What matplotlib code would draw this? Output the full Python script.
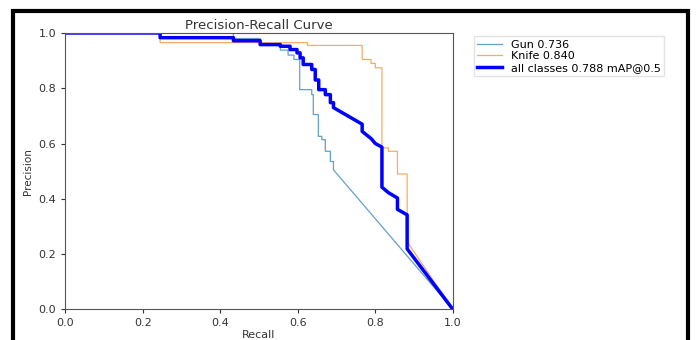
import matplotlib
matplotlib.use("Agg")
import matplotlib.pyplot as plt
from matplotlib.patches import Rectangle

# vertices of the precision-recall curves
gun_recall = [0, 0.434, 0.434, 0.503, 0.503, 0.555, 0.555, 0.575, 0.575, 0.59, 0.59,
              0.605, 0.605, 0.636, 0.636, 0.64, 0.64, 0.653, 0.653, 0.662, 0.662,
              0.671, 0.671, 0.684, 0.684, 0.692, 0.692, 1.0]
gun_precision = [1.0, 1.0, 0.98, 0.98, 0.958, 0.958, 0.938, 0.938, 0.92, 0.92, 0.904,
                 0.904, 0.795, 0.795, 0.777, 0.777, 0.705, 0.705, 0.626, 0.626, 0.614,
                 0.614, 0.572, 0.572, 0.535, 0.535, 0.505, 0.0]

knife_recall = [0, 0.245, 0.245, 0.625, 0.625, 0.766, 0.766, 0.789, 0.789, 0.80, 0.80,
                0.817, 0.817, 0.834, 0.834, 0.857, 0.857, 0.882, 0.882, 1.0]
knife_precision = [1.0, 1.0, 0.965, 0.965, 0.955, 0.955, 0.904, 0.904, 0.89, 0.89, 0.874,
                   0.874, 0.584, 0.584, 0.572, 0.572, 0.49, 0.49, 0.245, 0.0]

all_recall = [0, 0.245, 0.245, 0.434, 0.434, 0.503, 0.503, 0.555, 0.555, 0.58, 0.58,
              0.598, 0.598, 0.606, 0.606, 0.614, 0.614, 0.636, 0.636, 0.645, 0.645,
              0.654, 0.654, 0.671, 0.671, 0.684, 0.684, 0.692, 0.692, 0.766, 0.766,
              0.789, 0.80, 0.817, 0.817, 0.834, 0.857, 0.857, 0.882, 0.882, 1.0]
all_precision = [1.0, 1.0, 0.983, 0.983, 0.972, 0.972, 0.958, 0.958, 0.952, 0.952, 0.94,
                 0.94, 0.928, 0.928, 0.91, 0.91, 0.886, 0.886, 0.868, 0.868, 0.83,
                 0.83, 0.795, 0.795, 0.777, 0.777, 0.748, 0.748, 0.73, 0.67, 0.644,
                 0.618, 0.60, 0.587, 0.442, 0.422, 0.403, 0.362, 0.342, 0.219, 0.0]

labels = ["Gun 0.736", "Knife 0.840", "all classes 0.788 mAP@0.5"]

fig = plt.figure(figsize=(7, 3.4), dpi=100)
ax = fig.add_axes([0.093, 0.09, 0.554, 0.813])

ax.plot(gun_recall, gun_precision, color="#64a0c8", linewidth=0.9, label=labels[0])
ax.plot(knife_recall, knife_precision, color="#f2ad68", linewidth=0.9, label=labels[1])
ax.plot(all_recall, all_precision, color="blue", linewidth=2.5, label=labels[2])

ax.set_xlim(0, 1)
ax.set_ylim(0, 1)
ax.set_xticks([0, 0.2, 0.4, 0.6, 0.8, 1.0])
ax.set_yticks([0, 0.2, 0.4, 0.6, 0.8, 1.0])
ax.tick_params(labelsize=8, colors="#333333", length=3)
for s in ax.spines.values():
    s.set_color("#555555")
ax.set_xlabel("Recall", fontsize=8, color="#333333", labelpad=1)
ax.set_ylabel("Precision", fontsize=7.5, color="#333333", labelpad=4)
ax.set_title("Precision-Recall Curve", fontsize=9.5, color="#333333", pad=3)

ax.legend(bbox_to_anchor=(1.04, 1.008), loc="upper left", fontsize=8,
          frameon=True, fancybox=False, edgecolor="#dddddd",
          handlelength=2.2, borderpad=0.3, labelspacing=0.15)

# black frame around the image
fig.add_artist(Rectangle((13 / 700, -0.1), (687.5 - 13) / 700, 1.1 - 11 / 340,
                         transform=fig.transFigure, fill=False,
                         edgecolor="black", linewidth=3))

fig.savefig("out.png", dpi=100)
